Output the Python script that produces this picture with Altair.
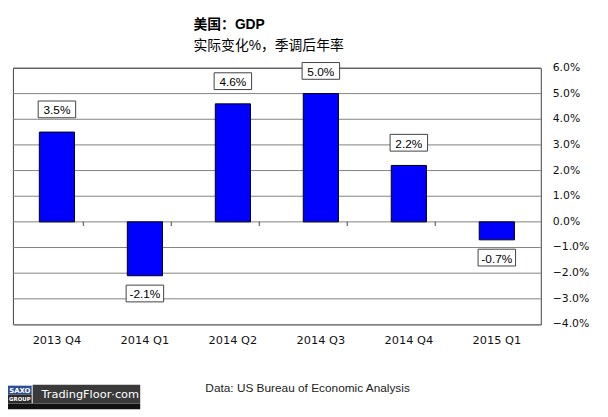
import altair as alt
import pandas as pd

# ---- data ----
quarters = ["2013 Q4", "2014 Q1", "2014 Q2", "2014 Q3", "2014 Q4", "2015 Q1"]
growth = [3.5, -2.1, 4.6, 5.0, 2.2, -0.7]
y_ticks = [-4, -3, -2, -1, 0, 1, 2, 3, 4, 5, 6]
title_text = "美国：GDP"
subtitle_text = "实际变化%，季调后年率"
source_text = "Data: US Bureau of Economic Analysis"
logo_saxo = ["SAXO", "GROUP"]
logo_tf = "TradingFloor·com"

df = pd.DataFrame({"q": quarters, "v": growth})
df["label"] = [f"{v:.1f}%" for v in growth]
grid_df = pd.DataFrame({"t": y_ticks})

W, H = 535, 260
CJK = "Liberation Sans, Noto Sans CJK SC"

x_axis = alt.Axis(title=None, labelAngle=0, ticks=False, domain=False,
                  labelFont="DejaVu Sans", labelFontSize=11.5, labelColor="#111111",
                  labelPadding=10)
x_scale = alt.Scale(paddingInner=0.6, paddingOuter=0.3)
y_scale = alt.Scale(domain=[-4, 6], nice=False, zero=False)

def X():
    return alt.X("q:N", sort=quarters, scale=x_scale, axis=x_axis)

def Y(field="v"):
    return alt.Y(f"{field}:Q", scale=y_scale, axis=None)

# gridlines and right-hand labels drawn from the tick list
grid = alt.Chart(grid_df).mark_rule(color="#808080", strokeWidth=1).encode(
    y=Y("t"), x=alt.value(0), x2=alt.value(W))
ylabels = alt.Chart(grid_df).transform_calculate(
    lab="format(datum.t, '.1f') + '%'").mark_text(
    align="left", baseline="middle", font="DejaVu Sans", fontSize=11,
    color="#111111").encode(y=Y("t"), x=alt.value(W + 12), text="lab:N")

base = alt.Chart(df)

bars = base.mark_bar(color="#0000FF", stroke="#000000", strokeWidth=1).encode(x=X(), y=Y())

step = W / 6.0
ticks = base.transform_calculate(z0="0", z1="-0.16").mark_rule(
    color="#404040", strokeWidth=1).encode(
    x=X(), y=Y("z0"), y2="z1:Q",
    xOffset=alt.value(-step / 2),
)

box_path = "M-1,-0.447L1,-0.447L1,0.447L-1,0.447Z"
pos = base.transform_filter("datum.v > 0")
neg = base.transform_filter("datum.v <= 0")

def boxes(b, off):
    return b.mark_point(shape=box_path, size=1444, filled=False, fill="white",
                        fillOpacity=1, stroke="#404040", strokeWidth=1,
                        opacity=1, yOffset=off).encode(x=X(), y=Y())

def texts(b, off):
    return b.mark_text(font="Liberation Sans", fontSize=12, color="#000000",
                       baseline="middle", yOffset=off + 1).encode(
        x=X(), y=Y(), text="label:N")

one = pd.DataFrame({"k": [0]})

def txt(s, xp, yp, size, weight="normal", color="#000000", font=CJK, align="left"):
    return alt.Chart(one).mark_text(align=align, baseline="alphabetic", font=font,
                                    fontSize=size, fontWeight=weight, color=color).encode(
        x=alt.value(xp), y=alt.value(yp), text=alt.value(s))

def rect(x0, x1, y0, y1, color):
    return alt.Chart(one).mark_rect(color=color).encode(
        x=alt.value(x0), x2=alt.value(x1), y=alt.value(y0), y2=alt.value(y1))

deco = [
    txt(title_text, 183, -39, 14, "bold"),
    txt(subtitle_text, 183, -18, 14),
    txt(source_text, 195, 328, 12, color="#222222"),
    rect(-5, 129, 340, 346, "#111111"),
    rect(-5, 19, 322, 331, "#2b4f93"),
    rect(-5, 19, 331, 340, "#2a2a2a"),
    rect(20, 129, 321, 340, "#3a3a3a"),
    txt(logo_saxo[0], 7, 329, 7, "bold", "#ffffff", "DejaVu Sans", "center"),
    txt(logo_saxo[1], 7, 338, 5.5, "bold", "#ffffff", "DejaVu Sans", "center"),
    txt(logo_tf, 29, 335, 11.5, "normal", "#ffffff", "DejaVu Sans"),
]

chart = alt.layer(
    grid, ylabels,
    bars, ticks,
    boxes(pos, -23), boxes(neg, 18),
    texts(pos, -23), texts(neg, 18),
    *deco,
).properties(
    width=W, height=H,
    autosize=alt.AutoSizeParams(type="none"),
    padding={"left": 5, "top": 58, "right": 60, "bottom": 91},
).configure_view(stroke="#404040", strokeWidth=1)

chart.save("out.html", embed_options={"renderer": "svg", "actions": False})
